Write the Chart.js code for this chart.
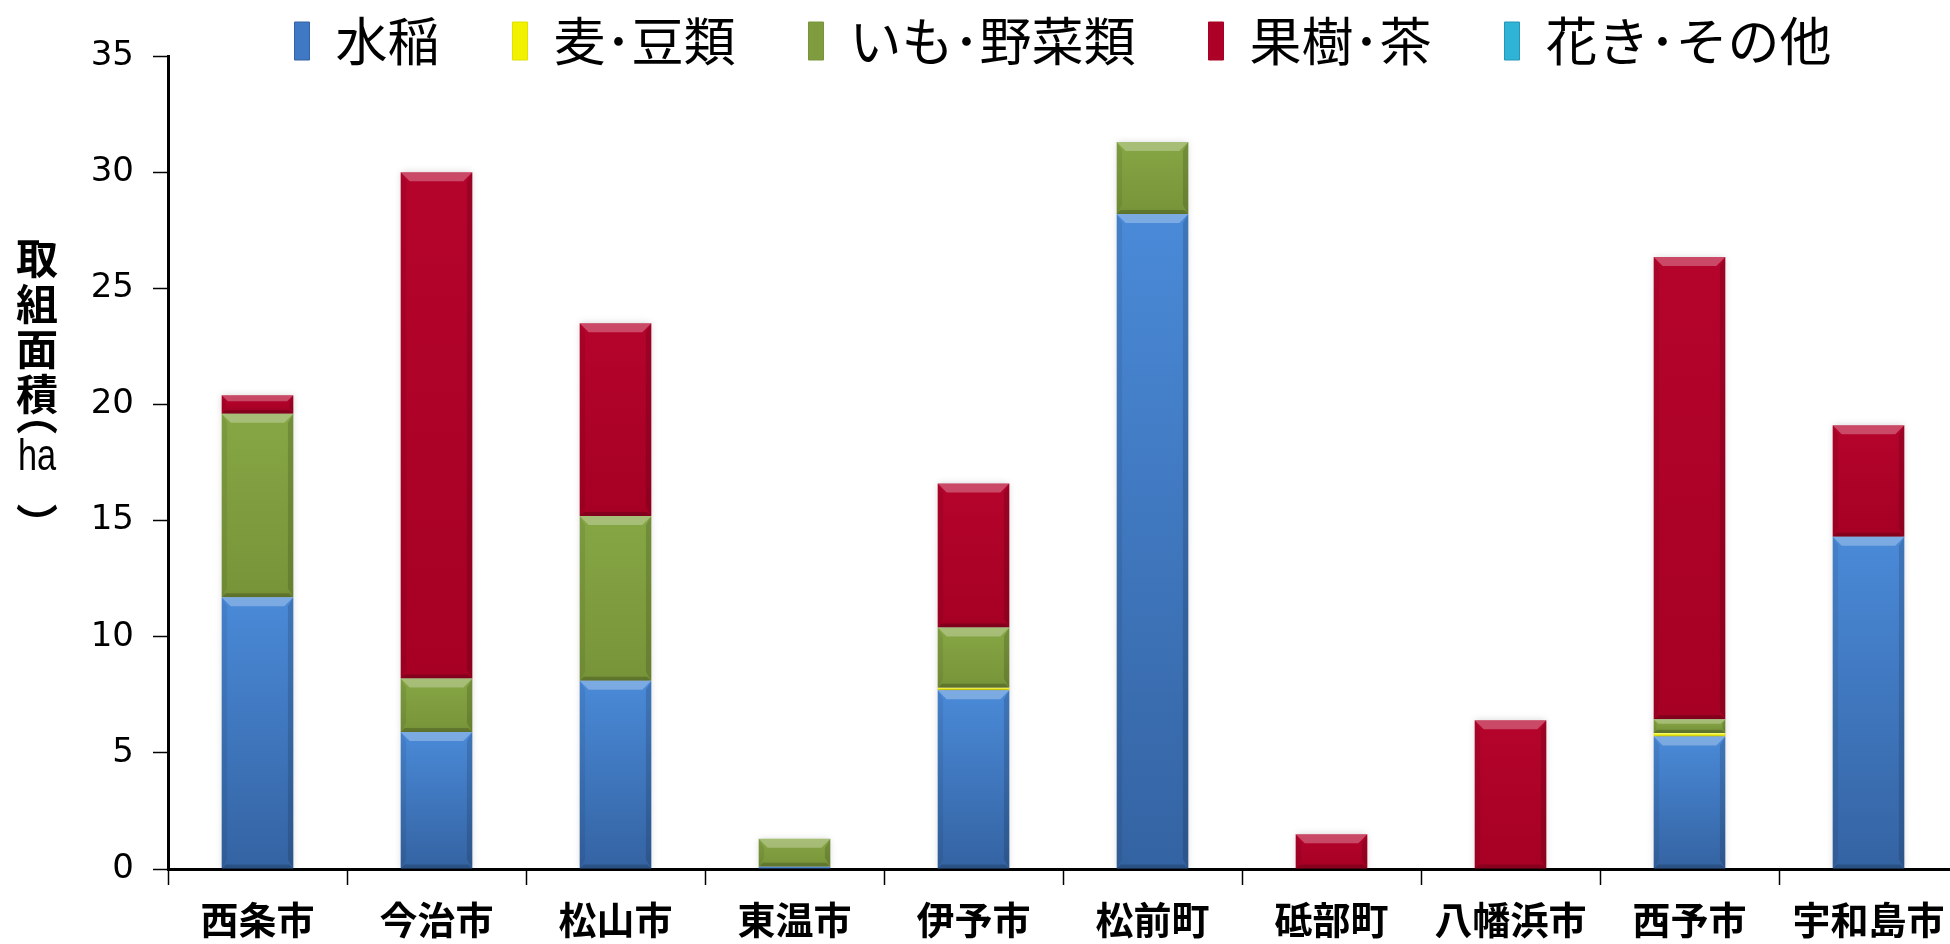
<!DOCTYPE html>
<html lang="ja">
<head>
<meta charset="utf-8">
<title>取組面積（ha）</title>
<script src="https://cdn.jsdelivr.net/npm/chart.js@4.4.1/dist/chart.umd.min.js"></script>
<style>
  html, body { margin: 0; padding: 0; background: #ffffff; overflow: hidden; }
  #wrap { width: 1950px; height: 944px; overflow: hidden; position: relative; }
  canvas { display: block; }
</style>
</head>
<body>
<div id="wrap"><canvas id="chart" width="1958" height="944"></canvas></div>
<script>
// Municipalities (x categories)
const municipalities = ['西条市', '今治市', '松山市', '東温市', '伊予市', '松前町', '砥部町', '八幡浜市', '西予市', '宇和島市'];

// Area by crop group (ha), stacked bottom to top
const rice       = [11.7, 5.9, 8.1, 0.1, 7.7, 28.2, 0,   0,   5.7,  14.3];
const wheatBeans = [0,    0,   0,   0,   0.1, 0,    0,   0,   0.15, 0];
const vegetables = [7.9,  2.3, 7.1, 1.2, 2.6, 3.1,  0,   0,   0.6,  0];
const fruitTea   = [0.8, 21.8, 8.3, 0,   6.2, 0,    1.5, 6.4, 19.9, 4.8];
const flowers    = [0,    0,   0,   0,   0,   0,    0,   0,   0,    0];

const seriesNames = ['水稲', '麦･豆類', 'いも･野菜類', '果樹･茶', '花き･その他'];
const yTicks = [0, 5, 10, 15, 20, 25, 30, 35];
const yTitleChars = ['取', '組', '面', '積', '︵', 'ha', '︶'];

const seriesData = [rice, wheatBeans, vegetables, fruitTea, flowers];

// light (top of a segment) → dark (bottom of a segment)
const palette = [
  { solid: '#3f78c4', light: '#4a8ad8', dark: '#3463a2' },
  { solid: '#f2f200', light: '#ffff30', dark: '#e0e000' },
  { solid: '#7f9d3e', light: '#86a644', dark: '#789439' },
  { solid: '#ae0128', light: '#b5042c', dark: '#a60024' },
  { solid: '#2fb3d6', light: '#45c4e4', dark: '#2596b8' }
];

const FONT_JP = "'Noto Sans CJK JP', 'Noto Sans', sans-serif";

function segmentFill(di) {
  return function (ctx) {
    const p = palette[di];
    if (ctx.type !== 'data') return p.solid;
    const chart = ctx.chart;
    const y = chart.scales && chart.scales.y;
    if (!y || !chart.chartArea) return p.solid;
    const i = ctx.dataIndex;
    let start = 0;
    for (let d = 0; d < di; d++) start += seriesData[d][i] || 0;
    const end = start + (seriesData[di][i] || 0);
    const top = y.getPixelForValue(end);
    const bottom = y.getPixelForValue(start);
    if (!isFinite(top) || !isFinite(bottom) || Math.abs(bottom - top) < 1) return p.solid;
    const g = chart.ctx.createLinearGradient(0, top, 0, bottom);
    g.addColorStop(0, p.light);
    g.addColorStop(1, p.dark);
    return g;
  };
}

const datasets = seriesNames.map((name, di) => ({
  label: name,
  data: seriesData[di],
  backgroundColor: segmentFill(di),
  borderWidth: 0,
  barPercentage: 0.4,
  categoryPercentage: 1.0,
  stack: 'area'
}));

// Soft halo behind the bars
const barShadow = {
  id: 'barShadow',
  beforeDatasetsDraw(chart) {
    const c = chart.ctx;
    c.save();
    c.shadowColor = 'rgba(0,0,0,0.16)';
    c.shadowBlur = 7;
    c.shadowOffsetX = 0;
    c.shadowOffsetY = 0;
  },
  afterDatasetsDraw(chart) {
    chart.ctx.restore();
  }
};

// Bevelled edges on each bar segment
const bevel = {
  id: 'bevel',
  afterDatasetsDraw(chart) {
    const c = chart.ctx;
    chart.data.datasets.forEach((ds, di) => {
      const meta = chart.getDatasetMeta(di);
      if (meta.hidden) return;
      meta.data.forEach((el) => {
        const { x, y, base, width } = el.getProps(['x', 'y', 'base', 'width'], true);
        const top = Math.min(y, base), bottom = Math.max(y, base);
        const h = bottom - top;
        if (h < 1.5) return;
        const l = x - width / 2, r = x + width / 2;
        const b = Math.min(9, h / 3);
        c.save();
        // top face
        c.beginPath();
        c.moveTo(l, top); c.lineTo(r, top); c.lineTo(r - b, top + b); c.lineTo(l + b, top + b); c.closePath();
        c.fillStyle = 'rgba(255,255,255,0.28)';
        c.fill();
        // left face
        c.beginPath();
        c.moveTo(l, top); c.lineTo(l + b * 0.6, top + b); c.lineTo(l + b * 0.6, bottom - b); c.lineTo(l, bottom); c.closePath();
        c.fillStyle = 'rgba(0,0,0,0.07)';
        c.fill();
        // right face
        c.beginPath();
        c.moveTo(r, top); c.lineTo(r - b * 0.6, top + b); c.lineTo(r - b * 0.6, bottom - b); c.lineTo(r, bottom); c.closePath();
        c.fillStyle = 'rgba(0,0,0,0.14)';
        c.fill();
        // bottom face
        const bb = Math.min(4, h / 4);
        c.beginPath();
        c.moveTo(l, bottom); c.lineTo(l + bb, bottom - bb); c.lineTo(r - bb, bottom - bb); c.lineTo(r, bottom); c.closePath();
        c.fillStyle = 'rgba(0,0,0,0.18)';
        c.fill();
        c.restore();
      });
    });
  }
};

// Legend sits close over the plot: trim its reserved height, but draw it unclipped
const LEGEND_TRIM = 21;
const tightLegend = {
  id: 'tightLegend',
  beforeLayout(chart) {
    const lg = chart.legend;
    if (!lg || lg._trimmed) return;
    const fit = lg.fit;
    const draw = lg.draw;
    lg.fit = function () { fit.call(this); this.height -= LEGEND_TRIM; };
    lg.draw = function () {
      const b = this.bottom, h = this.height;
      this.bottom = b + LEGEND_TRIM; this.height = h + LEGEND_TRIM;
      draw.call(this);
      this.bottom = b; this.height = h;
    };
    lg._trimmed = true;
  }
};

// Vertical (stacked-character) y-axis title
const yTitle = {
  id: 'yTitle',
  afterDraw(chart) {
    const c = chart.ctx;
    const cx = 37;
    const rows = [258, 304, 349, 394, 414, 458, 524];
    c.save();
    c.fillStyle = '#000';
    c.textAlign = 'center';
    c.textBaseline = 'middle';
    yTitleChars.forEach((ch, k) => {
      if (ch === 'ha') {
        c.save();
        c.translate(cx, rows[k]);
        c.scale(0.78, 1);
        c.font = "44px 'Liberation Sans', Arial, sans-serif";
        c.fillText(ch, 0, 0);
        c.restore();
      } else {
        c.font = 'bold 42px ' + FONT_JP;
        c.fillText(ch, cx, rows[k]);
      }
    });
    c.restore();
  }
};

new Chart(document.getElementById('chart'), {
  type: 'bar',
  data: { labels: municipalities, datasets },
  plugins: [barShadow, bevel, tightLegend, yTitle],
  options: {
    responsive: false,
    animation: false,
    devicePixelRatio: 1,
    layout: { padding: { top: -58, left: 0, right: 0, bottom: 0 } },
    plugins: {
      tooltip: { enabled: false },
      title: { display: false },
      legend: {
        display: true,
        position: 'top',
        fullSize: false,
        align: 'center',
        labels: {
          color: '#000',
          font: { family: FONT_JP, size: 52 },
          boxWidth: 15,
          boxHeight: 38,
          padding: 73,
          generateLabels(chart) {
            return chart.data.datasets.map((ds, i) => ({
              text: ds.label,
              fillStyle: palette[i].solid,
              strokeStyle: palette[i].dark,
              lineWidth: 1,
              hidden: false,
              datasetIndex: i
            }));
          }
        }
      }
    },
    scales: {
      x: {
        stacked: true,
        offset: true,
        afterFit(scale) { scale.height = 75; },
        grid: {
          display: true,
          drawOnChartArea: false,
          drawTicks: true,
          tickLength: 16,
          tickWidth: 1.5,
          tickColor: '#000',
          offset: true
        },
        border: { display: true, color: '#000', width: 3 },
        ticks: {
          color: '#000',
          padding: 12,
          maxRotation: 0,
          autoSkip: false,
          font: { family: FONT_JP, size: 38, weight: 'bold' }
        }
      },
      y: {
        stacked: true,
        min: 0,
        max: 35,
        afterFit(scale) { scale.width = 168; },
        afterBuildTicks(scale) { scale.ticks = yTicks.map(v => ({ value: v })); },
        grid: {
          display: true,
          drawOnChartArea: false,
          drawTicks: true,
          tickLength: 15,
          tickWidth: 1.5,
          tickColor: '#000'
        },
        border: { display: true, color: '#000', width: 3 },
        ticks: {
          color: '#000',
          padding: 19,
          font: { family: "'DejaVu Sans', Verdana, sans-serif", size: 34 }
        },
        title: { display: false }
      }
    }
  }
});
</script>
</body>
</html>
